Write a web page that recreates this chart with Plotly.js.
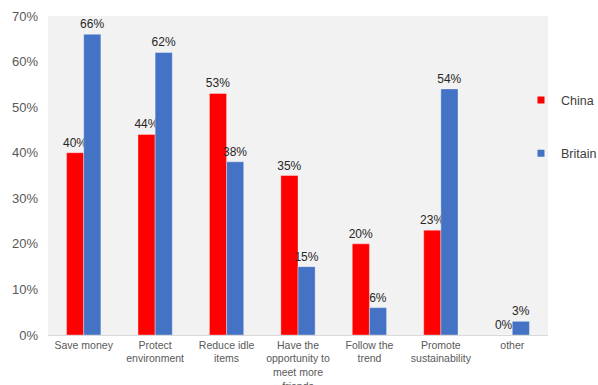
<!DOCTYPE html>
<html>
<head>
<meta charset="utf-8">
<script src="https://cdn.plot.ly/plotly-3.0.1.min.js"></script>
<style>
  html, body { margin: 0; padding: 0; background: #ffffff; }
  #chart { width: 598px; height: 385px; }
</style>
</head>
<body>
<div id="chart"></div>
<script>
// Reasons for using second-hand goods, China vs Britain (share of respondents, %)
const categories = [
  'Save money',
  'Protect<br>environment',
  'Reduce idle<br>items',
  'Have the<br>opportunity to<br>meet more<br>friends',
  'Follow the<br>trend',
  'Promote<br>sustainability',
  'other'
];
const chinaValues = [40, 44, 53, 35, 20, 23, 0];
const britainValues = [66, 62, 38, 15, 6, 54, 3];
const yTickValues = [0, 10, 20, 30, 40, 50, 60, 70];
const yTickLabels = ['0%', '10%', '20%', '30%', '40%', '50%', '60%', '70%'];

const RED = '#ff0000';
const BLUE = '#4472c4';
const FONT = 'Liberation Sans, Arial, sans-serif';

function barTrace(name, values, color) {
  return {
    type: 'bar',
    name: name,
    x: categories,
    y: values,
    marker: { color: color, line: { color: 'rgba(255,255,255,0.35)', width: 1 } },
    text: values.map(v => v + '%'),
    textposition: 'outside',
    textfont: { family: FONT, size: 12, color: '#262626' },
    constraintext: 'none',
    cliponaxis: false,
    showlegend: false,
    hoverinfo: 'x+y'
  };
}

// Legend entries with small square swatches
function legendTrace(name, color, group) {
  return {
    type: 'scatter',
    mode: 'markers',
    name: name,
    x: [null],
    y: [null],
    legendgroup: group,
    marker: { symbol: 'square', size: 7, color: color },
    hoverinfo: 'skip'
  };
}

const data = [
  barTrace('China', chinaValues, RED),
  barTrace('Britain', britainValues, BLUE),
  legendTrace('China', RED, 'a'),
  legendTrace('Britain', BLUE, 'b')
];

const layout = {
  width: 598,
  height: 385,
  margin: { l: 48, r: 50, t: 16, b: 50, autoexpand: false },
  paper_bgcolor: '#ffffff',
  plot_bgcolor: '#f2f2f2',
  font: { family: FONT, color: '#595959' },
  barmode: 'group',
  bargap: 0.52,
  bargroupgap: 0,
  xaxis: {
    type: 'category',
    tickfont: { family: FONT, size: 10.5, color: '#595959' },
    showline: true,
    linecolor: '#d9d9d9',
    linewidth: 1,
    ticks: '',
    showgrid: false,
    zeroline: false,
    automargin: false
  },
  yaxis: {
    range: [0, 70],
    tickvals: yTickValues,
    ticktext: yTickLabels,
    tickfont: { family: FONT, size: 13, color: '#595959' },
    ticklabelstandoff: 9,
    showgrid: false,
    zeroline: false,
    showline: false,
    ticks: '',
    ticklen: 0,
    automargin: false
  },
  legend: {
    xref: 'container',
    yref: 'container',
    x: 0.8712,
    y: 0.778,
    xanchor: 'left',
    yanchor: 'top',
    bgcolor: 'rgba(0,0,0,0)',
    font: { family: FONT, size: 12.5, color: '#404040' },
    traceorder: 'grouped',
    tracegroupgap: 34,
    itemwidth: 30
  },
  showlegend: true
};

Plotly.newPlot('chart', data, layout, { displayModeBar: false, staticPlot: true });
</script>
</body>
</html>
